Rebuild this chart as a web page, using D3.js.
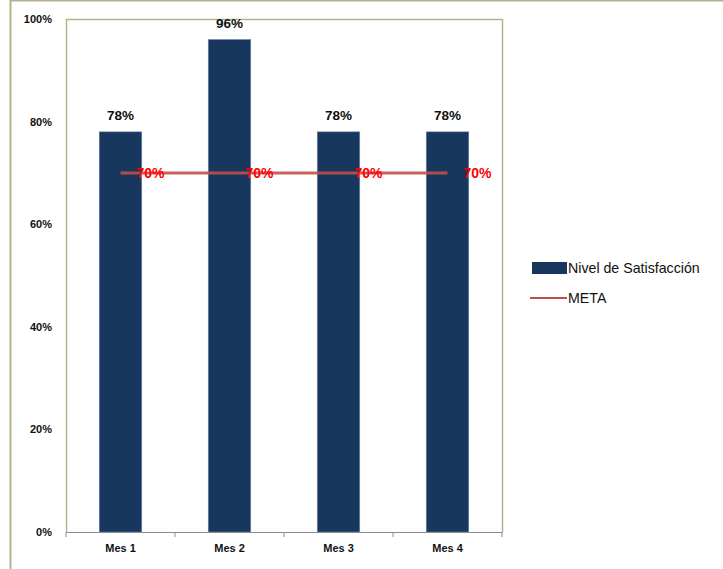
<!DOCTYPE html>
<html>
<head>
<meta charset="utf-8">
<script src="https://cdn.jsdelivr.net/npm/d3@7"></script>
<style>
  body { margin: 0; background: #fff; }
  svg { display: block; font-family: "Liberation Sans", Arial, sans-serif; }
</style>
</head>
<body>
<div id="chart"></div>
<script>
// data
var meses = ["Mes 1", "Mes 2", "Mes 3", "Mes 4"];
var satisfaccion = [0.78, 0.96, 0.78, 0.78];
var meta = [0.70, 0.70, 0.70, 0.70];
var yTicks = [0, 0.2, 0.4, 0.6, 0.8, 1.0];
var serieNames = ["Nivel de Satisfacción", "META"];

var svgWidth = 723;
var svgHeight = 569;

// plot area margins
var margin = { top: 19, right: 221, bottom: 37, left: 66 };
var chartWidth = svgWidth - margin.left - margin.right;
var chartHeight = svgHeight - margin.top - margin.bottom;

var svg = d3.select("#chart")
  .append("svg")
  .attr("width", svgWidth)
  .attr("height", svgHeight);

// outer frame (left and top edges visible)
svg.append("path")
  .attr("d", "M10.5," + svgHeight + " V0.5 H" + svgWidth)
  .attr("fill", "none")
  .attr("stroke", "#b8b28c")
  .attr("stroke-width", 2);

var chartGroup = svg.append("g")
  .attr("transform", "translate(" + margin.left + "," + margin.top + ")");

var xBand = d3.scaleBand().domain(meses).range([0, chartWidth]).paddingInner(0.61).paddingOuter(0.305);
var xPoint = d3.scalePoint().domain(meses).range([0, chartWidth]).padding(0.5);
var y = d3.scaleLinear().domain([0, 1]).range([chartHeight, 0]);

// plot border: left, top, right
chartGroup.append("path")
  .attr("d", "M0.5," + chartHeight + " V0.5 H" + (chartWidth + 0.5) + " V" + chartHeight)
  .attr("fill", "none")
  .attr("stroke", "#b8b28c")
  .attr("stroke-width", 1.5);

// bars
chartGroup.selectAll(".bar")
  .data(satisfaccion)
  .enter()
  .append("rect")
  .attr("class", "bar")
  .attr("x", function (d, i) { return xBand(meses[i]); })
  .attr("y", function (d) { return y(d); })
  .attr("width", xBand.bandwidth())
  .attr("height", function (d) { return chartHeight - y(d); })
  .attr("fill", "#17375e")
  .attr("stroke", "#6f87a6")
  .attr("stroke-width", 0.6);

// bar value labels
chartGroup.selectAll(".barLabel")
  .data(satisfaccion)
  .enter()
  .append("text")
  .attr("x", function (d, i) { return xPoint(meses[i]); })
  .attr("y", function (d) { return y(d) - 12; })
  .attr("text-anchor", "middle")
  .attr("font-size", 13.5)
  .attr("font-weight", "bold")
  .attr("fill", "#111")
  .text(function (d) { return Math.round(d * 100) + "%"; });

// meta line
var line = d3.line()
  .x(function (d, i) { return xPoint(meses[i]); })
  .y(function (d) { return y(d); });

chartGroup.append("path")
  .datum(meta)
  .attr("d", line)
  .attr("fill", "none")
  .attr("stroke", "#c0504d")
  .attr("stroke-opacity", 0.9)
  .attr("stroke-width", 3);

chartGroup.selectAll(".metaLabel")
  .data(meta)
  .enter()
  .append("text")
  .attr("x", function (d, i) { return xPoint(meses[i]) + 16; })
  .attr("y", function (d) { return y(d) + 5; })
  .attr("font-size", 14)
  .attr("font-weight", "bold")
  .attr("fill", "#ff0000")
  .text(function (d) { return Math.round(d * 100) + "%"; });

// axes
var bottomAxis = d3.axisBottom(xBand).tickSize(0).tickPadding(12);
var xAxisG = chartGroup.append("g")
  .attr("transform", "translate(0," + chartHeight + ")")
  .call(bottomAxis);
xAxisG.select(".domain").attr("stroke", "#8c8c8c").attr("stroke-width", 1.2);
xAxisG.selectAll("text").attr("font-size", 11).attr("font-weight", "bold").attr("fill", "#111");

// category separators on the x axis
xAxisG.selectAll(".sep")
  .data(d3.range(meses.length + 1))
  .enter()
  .append("line")
  .attr("x1", function (i) { return i * xBand.step(); })
  .attr("x2", function (i) { return i * xBand.step(); })
  .attr("y1", 0)
  .attr("y2", 5)
  .attr("stroke", "#8c8c8c");

var leftAxis = d3.axisLeft(y).tickValues(yTicks).tickSize(0).tickPadding(14)
  .tickFormat(d3.format(".0%"));
var yAxisG = chartGroup.append("g").call(leftAxis);
yAxisG.select(".domain").remove();
yAxisG.selectAll("text").attr("font-size", 11).attr("font-weight", "bold").attr("fill", "#111");

// legend
var legend = svg.append("g").attr("transform", "translate(532,268)");
legend.append("rect")
  .attr("x", 0).attr("y", -6)
  .attr("width", 35).attr("height", 12)
  .attr("fill", "#17375e");
legend.append("text")
  .attr("x", 36).attr("y", 5)
  .attr("font-size", 14.2)
  .attr("fill", "#111")
  .text(serieNames[0]);
legend.append("line")
  .attr("x1", -2).attr("x2", 35)
  .attr("y1", 30).attr("y2", 30)
  .attr("stroke", "#c0504d")
  .attr("stroke-width", 2);
legend.append("text")
  .attr("x", 36).attr("y", 35)
  .attr("font-size", 14.2)
  .attr("fill", "#111")
  .text(serieNames[1]);
</script>
</body>
</html>
